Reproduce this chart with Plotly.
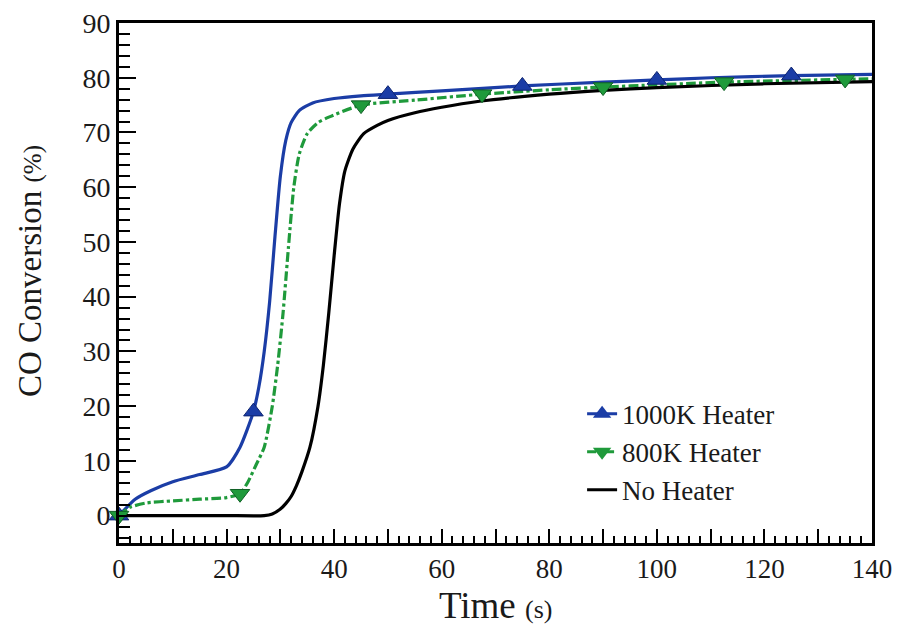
import plotly.graph_objects as go

# ---- data ----
t_1000 = [0, 3, 6, 10, 15, 20, 22.5, 25, 26, 27, 28, 29, 30, 31, 32, 33.5, 36, 40, 45, 50, 60, 75, 90, 100, 110, 125, 140]
v_1000 = [0, 3, 4.6, 6.2, 7.5, 8.9, 12.5, 19, 23.5, 30, 39, 51, 62, 68.5, 71.8, 74, 75.4, 76.2, 76.7, 77, 77.6, 78.5, 79.2, 79.6, 80, 80.4, 80.6]

t_800 = [0, 2, 5, 10, 15, 20, 22.5, 24, 25.5, 27, 28.5, 29.5, 30.5, 31.5, 32.5, 33.5, 35, 37, 39, 45, 55, 67.5, 80, 90, 100, 112.5, 125, 135, 140]
v_800 = [0, 1.5, 2.3, 2.7, 3.0, 3.3, 4.0, 6.2, 9.3, 12.5, 20, 27.5, 37, 49, 60, 66, 69.8, 71.8, 72.8, 75, 75.9, 77, 77.8, 78.3, 78.7, 79.2, 79.5, 79.7, 79.8]

t_none = [0, 10, 20, 27, 28.5, 30, 31, 32, 33, 34, 35.5, 37, 38, 39, 40, 41, 42, 43.5, 45.5, 48, 50, 55, 60, 67, 80, 90, 100, 120, 140]
v_none = [0, 0, 0, 0, 0.3, 1.2, 2.2, 3.5, 5.5, 8, 12.5, 20, 27.5, 37, 47.5, 57, 63, 67, 69.8, 71.3, 72.2, 73.6, 74.6, 75.7, 77, 77.7, 78.2, 78.9, 79.3]

markers_1000_t = [0, 25, 50, 75, 100, 125]
markers_800_t = [0, 22.5, 45, 67.5, 90, 112.5, 135]

series_names = ["1000K Heater", "800K Heater", "No Heater"]

x_tick_vals = [0, 10, 20, 30, 40, 50, 60, 70, 80, 90, 100, 110, 120, 130, 140]
x_tick_text = ["0", "", "20", "", "40", "", "60", "", "80", "", "100", "", "120", "", "140"]
y_tick_vals = [0, 10, 20, 30, 40, 50, 60, 70, 80, 90]

x_title = "Time <span style='font-size:26px'>(s)</span>"
y_title = "CO Conversion <span style='font-size:25px'>(%)</span>"

BLUE = "#1b3da6"
GREEN = "#1f9a3b"
BLACK = "#000000"
FONT = "Liberation Serif, Times New Roman, serif"
TXT = "#1a1a1a"

def pick(ts, vs, sel):
    lookup = dict(zip(ts, vs))
    return [lookup[s] for s in sel]

fig = go.Figure()

fig.add_trace(go.Scatter(x=t_1000, y=v_1000, mode="lines", line=dict(color=BLUE, width=3.2, shape="spline", smoothing=0.6),
                         showlegend=False, hoverinfo="skip"))
fig.add_trace(go.Scatter(x=t_800, y=v_800, mode="lines", line=dict(color=GREEN, width=3.2, dash="dashdot", shape="spline", smoothing=0.6),
                         showlegend=False, hoverinfo="skip"))
fig.add_trace(go.Scatter(x=t_none, y=v_none, mode="lines", line=dict(color=BLACK, width=3.2, shape="spline", smoothing=0.6),
                         showlegend=False, hoverinfo="skip"))

fig.add_trace(go.Scatter(x=markers_1000_t, y=pick(t_1000, v_1000, markers_1000_t), mode="markers",
                         marker=dict(symbol="triangle-up", size=17, color=BLUE, line=dict(color="#0d2470", width=1)),
                         showlegend=False, cliponaxis=False))
fig.add_trace(go.Scatter(x=markers_800_t, y=pick(t_800, v_800, markers_800_t), mode="markers",
                         marker=dict(symbol="triangle-down", size=17, color=GREEN, line=dict(color="#106025", width=1)),
                         showlegend=False, cliponaxis=False))

fig.add_trace(go.Scatter(x=[None], y=[None], mode="lines+markers", name=series_names[0], legendgroup="a",
                         line=dict(color=BLUE, width=3),
                         marker=dict(symbol="triangle-up", size=17, color=BLUE)))
fig.add_trace(go.Scatter(x=[None], y=[None], mode="lines+markers", name=series_names[1], legendgroup="b",
                         line=dict(color=GREEN, width=3, dash="dashdot"),
                         marker=dict(symbol="triangle-down", size=17, color=GREEN)))
fig.add_trace(go.Scatter(x=[None], y=[None], mode="lines", name=series_names[2], legendgroup="c",
                         line=dict(color=BLACK, width=3)))

fig.update_layout(
    width=901, height=626,
    margin=dict(l=111, r=37, t=15, b=91, autoexpand=False),
    paper_bgcolor="white", plot_bgcolor="white",
    font=dict(family=FONT, color=TXT, size=28),
    showlegend=True,
    legend=dict(x=0.615, y=0.295, xanchor="left", yanchor="top", bgcolor="rgba(0,0,0,0)",
                font=dict(family=FONT, size=27, color=TXT), tracegroupgap=0),
    annotations=[
        dict(text=x_title, xref="paper", yref="paper", x=0.5, y=0, xanchor="center", yanchor="middle",
             yshift=-62, showarrow=False, font=dict(family=FONT, size=37, color=TXT)),
        dict(text=y_title, xref="paper", yref="paper", x=0, y=0.5, xanchor="center", yanchor="middle",
             xshift=-89, yshift=12, textangle=-90, showarrow=False, font=dict(family=FONT, size=33, color=TXT)),
    ],
)

fig.update_xaxes(
    range=[0, 140], tickmode="array", tickvals=x_tick_vals, ticktext=x_tick_text,
    ticks="inside", ticklen=14, tickwidth=2, tickcolor="black",
    minor=dict(dtick=2, ticks="inside", ticklen=7, tickwidth=1.5, tickcolor="black", showgrid=False),
    showline=True, linecolor="black", linewidth=3, mirror=True,
    showgrid=False, zeroline=False, automargin=False, ticklabeloverflow="allow",
    tickfont=dict(family=FONT, size=27, color=TXT),
)
fig.update_yaxes(
    range=[-5, 90], tickmode="array", tickvals=y_tick_vals,
    ticks="inside", ticklen=17, tickwidth=2, tickcolor="black",
    minor=dict(dtick=2, tick0=0, ticks="inside", ticklen=11, tickwidth=1.5, tickcolor="black", showgrid=False),
    showline=True, linecolor="black", linewidth=3, mirror=True,
    showgrid=False, zeroline=False, automargin=False, ticklabeloverflow="allow",
    tickfont=dict(family=FONT, size=28, color=TXT),
)

fig.write_html("out.html")
